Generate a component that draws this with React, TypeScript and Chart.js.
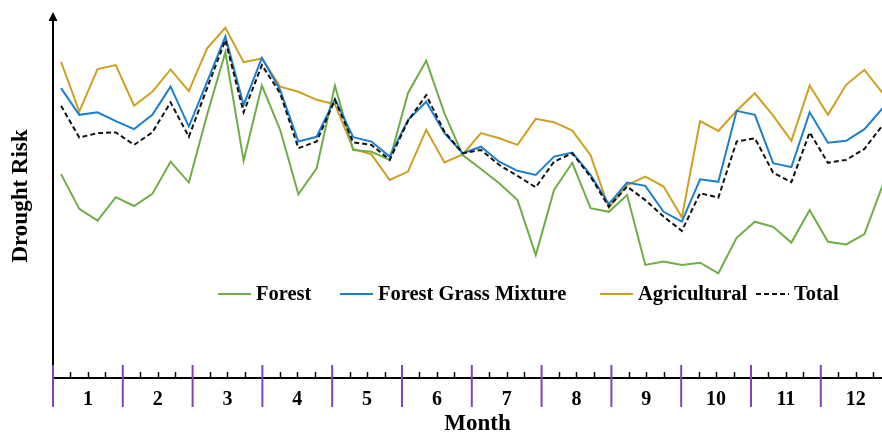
import { useEffect, useRef } from "react";
import { Chart, registerables } from "chart.js";

Chart.register(...registerables);

// ---- Data (drought risk, relative units; 46 eight-day periods) ----
const monthLabels = ["1", "2", "3", "4", "5", "6", "7", "8", "9", "10", "11", "12"];

const forest = [
  55.7, 46.2, 43.0, 49.4, 47.0, 50.3, 59.1, 53.4, 71.9, 89.0, 59.4, 79.9,
  67.8, 50.2, 57.3, 79.9, 62.3, 61.8, 59.6, 77.8, 86.7, 72.3, 60.9, 57.1,
  53.2, 48.6, 33.6, 51.4, 58.8, 46.4, 45.4, 50.0, 30.9, 31.8, 30.9, 31.5,
  28.6, 38.3, 42.7, 41.3, 37.0, 45.9, 37.2, 36.5, 39.3, 52.7,
];

const forestGrassMixture = [
  79.2, 71.9, 72.6, 70.2, 68.0, 71.9, 79.6, 68.7, 80.9, 93.3, 74.6, 87.5,
  78.7, 64.6, 65.9, 76.2, 65.8, 64.6, 60.5, 70.5, 75.5, 66.9, 61.4, 63.2,
  59.1, 56.6, 55.5, 60.5, 61.6, 55.5, 47.5, 53.4, 52.5, 45.4, 42.7, 54.3,
  53.6, 73.0, 71.9, 58.7, 57.6, 72.6, 64.3, 64.8, 68.0, 73.7,
];

const agricultural = [
  86.4, 72.8, 84.4, 85.5, 74.4, 78.2, 84.3, 78.4, 90.1, 95.7, 86.3, 87.3,
  79.6, 78.2, 76.0, 74.8, 62.6, 61.1, 54.1, 56.4, 67.8, 58.9, 61.1, 66.9,
  65.5, 63.7, 70.8, 69.9, 67.6, 60.9, 46.5, 52.7, 55.0, 52.3, 43.9, 70.2,
  67.5, 73.0, 77.8, 71.7, 64.8, 79.9, 71.9, 80.1, 84.2, 77.8,
];

const total = [
  74.4, 65.7, 66.9, 67.1, 63.7, 67.1, 75.3, 65.9, 79.2, 92.3, 72.6, 85.5,
  77.8, 62.8, 64.6, 76.0, 64.4, 63.7, 59.6, 70.2, 77.3, 67.3, 61.4, 62.3,
  58.2, 55.2, 52.1, 59.1, 61.4, 55.0, 46.8, 52.3, 48.6, 44.1, 40.2, 50.5,
  49.3, 64.6, 65.5, 56.1, 53.5, 67.1, 58.8, 59.6, 62.6, 69.1,
];

const seriesNames = ["Forest", "Forest Grass Mixture", "Agricultural", "Total"];
const seriesColors = ["#70ad47", "#1b7fcf", "#cf9f22", "#111111"];

// x positions of the 8-day periods, in months from the start of the year
const FIRST_PERIOD = 0.115;
const PERIOD_STEP = 0.2616;
const X_MAX = 11.877;
const Y_MAX = 100;

const FONT = "'Liberation Serif', 'Times New Roman', serif";

function toPoints(values: number[]) {
  return values.map((v, i) => ({ x: FIRST_PERIOD + i * PERIOD_STEP, y: v }));
}

const decorPlugin = {
  id: "decor",
  afterDatasetsDraw(chart: any) {
    const { ctx, chartArea, scales } = chart;
    const xs = scales.x;
    const { left, right, top, bottom } = chartArea;
    ctx.save();

    // y axis with arrow
    ctx.strokeStyle = "#000";
    ctx.fillStyle = "#000";
    ctx.lineWidth = 2;
    ctx.beginPath();
    ctx.moveTo(left, bottom + 1);
    ctx.lineTo(left, top + 7);
    ctx.stroke();
    ctx.beginPath();
    ctx.moveTo(left - 4.5, top + 9);
    ctx.lineTo(left + 4.5, top + 9);
    ctx.lineTo(left, top);
    ctx.closePath();
    ctx.fill();

    // x axis
    ctx.beginPath();
    ctx.moveTo(left - 1, bottom);
    ctx.lineTo(right, bottom);
    ctx.stroke();

    // minor ticks (quarter months)
    ctx.lineWidth = 1.5;
    for (let q = 1; q < 48; q++) {
      if (q % 4 === 0) continue;
      const x = Math.round(xs.getPixelForValue(q / 4)) + 0.5;
      if (x > right) break;
      ctx.beginPath();
      ctx.moveTo(x, bottom);
      ctx.lineTo(x, bottom - 6);
      ctx.stroke();
    }

    // month dividers
    ctx.strokeStyle = "#8044b8";
    ctx.lineWidth = 2;
    for (let m = 0; m < monthLabels.length; m++) {
      const x = xs.getPixelForValue(m);
      if (x > right) break;
      ctx.beginPath();
      ctx.moveTo(x, bottom - 13);
      ctx.lineTo(x, bottom + 29);
      ctx.stroke();
    }

    // month labels
    ctx.fillStyle = "#000";
    ctx.font = `bold 20px ${FONT}`;
    ctx.textAlign = "center";
    ctx.textBaseline = "middle";
    monthLabels.forEach((lab, m) => {
      const x = xs.getPixelForValue(m + 0.5);
      ctx.fillText(lab, x, bottom + 22);
    });

    // axis titles
    ctx.font = `bold 23px ${FONT}`;
    ctx.fillText("Month", (left + right) / 2 + 10, bottom + 46);
    ctx.save();
    ctx.translate(21, 196);
    ctx.rotate(-Math.PI / 2);
    ctx.fillText("Drought Risk", 0, 0);
    ctx.restore();

    // legend
    const legendStarts = [218, 340, 600, 756];
    const ly = 294;
    ctx.font = `bold 20.5px ${FONT}`;
    ctx.textAlign = "left";
    chart.data.datasets.forEach((ds: any, i: number) => {
      const x0 = legendStarts[i];
      ctx.strokeStyle = ds.borderColor;
      ctx.lineWidth = 2;
      ctx.setLineDash(ds.borderDash || []);
      ctx.beginPath();
      ctx.moveTo(x0, ly);
      ctx.lineTo(x0 + 33, ly);
      ctx.stroke();
      ctx.setLineDash([]);
      ctx.fillStyle = "#000";
      ctx.fillText(ds.label, x0 + 38, ly + 1);
    });

    ctx.restore();
  },
};

export default function App() {
  const ref = useRef<HTMLCanvasElement | null>(null);

  useEffect(() => {
    if (!ref.current) return;
    const series = [forest, forestGrassMixture, agricultural, total];
    const orders = [2, 1, 3, 0];
    const chart = new Chart(ref.current, {
      type: "line",
      data: {
        datasets: series.map((vals, i) => ({
          label: seriesNames[i],
          data: toPoints(vals),
          borderColor: seriesColors[i],
          backgroundColor: seriesColors[i],
          borderWidth: 2,
          borderDash: i === 3 ? [5, 3] : [],
          pointRadius: 0,
          tension: 0,
          fill: false,
          order: orders[i],
        })),
      },
      options: {
        animation: false,
        responsive: false,
        maintainAspectRatio: false,
        layout: { padding: { left: 53, right: 0, top: 12, bottom: 56 } },
        plugins: { legend: { display: false }, tooltip: { enabled: false } },
        scales: {
          x: { type: "linear", min: 0, max: X_MAX, display: false },
          y: { type: "linear", min: 0, max: Y_MAX, display: false },
        },
      },
      plugins: [decorPlugin],
    });
    return () => chart.destroy();
  }, []);

  return (
    <div style={{ position: "fixed", left: 0, top: 0, width: 882, height: 434, background: "#fff" }}>
      <canvas ref={ref} width={882} height={434} style={{ width: 882, height: 434, display: "block" }} />
    </div>
  );
}
